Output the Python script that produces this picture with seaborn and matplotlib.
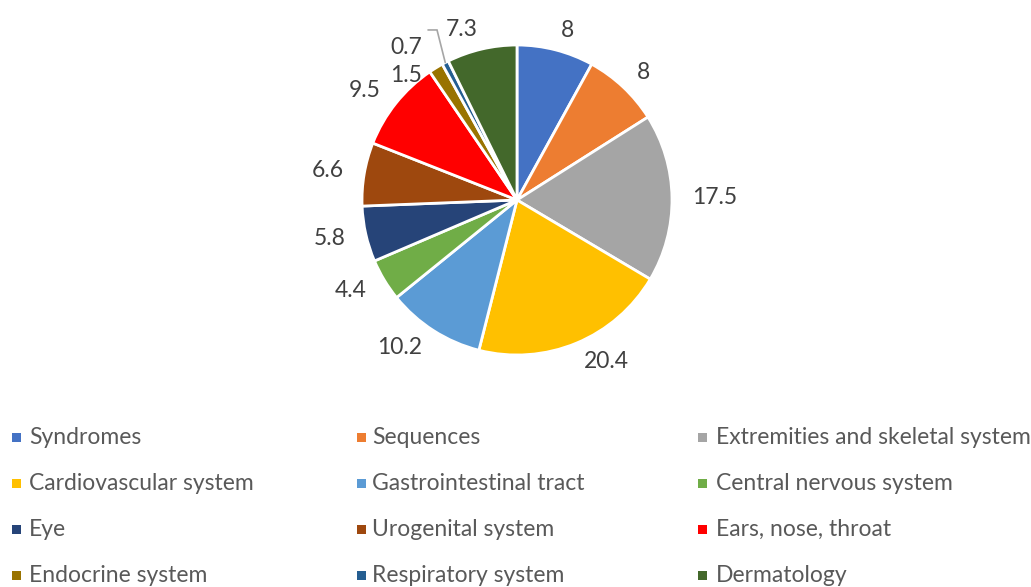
import matplotlib
matplotlib.use("Agg")
import matplotlib.pyplot as plt
import seaborn as sns
import numpy as np

categories = ["Syndromes", "Sequences", "Extremities and skeletal system",
              "Cardiovascular system", "Gastrointestinal tract", "Central nervous system",
              "Eye", "Urogenital system", "Ears, nose, throat",
              "Endocrine system", "Respiratory system", "Dermatology"]
values = [8, 8, 17.5, 20.4, 10.2, 4.4, 5.8, 6.6, 9.5, 1.5, 0.7, 7.3]
value_labels = ["8", "8", "17.5", "20.4", "10.2", "4.4", "5.8", "6.6", "9.5", "1.5", "0.7", "7.3"]
colors = ["#4472C4", "#ED7D31", "#A5A5A5", "#FFC000", "#5B9BD5", "#70AD47",
          "#264478", "#9E480E", "#FF0000", "#997300", "#255E91", "#43682B"]

sns.set_theme(style="white")
plt.rcParams['font.family'] = ['Lato', 'DejaVu Sans']

W, H = 1031, 587
fig = plt.figure(figsize=(W / 100, H / 100), dpi=100)
cx, cy, r = 517, 200, 155
ax = fig.add_axes([(cx - r) / W, (H - cy - r) / H, 2 * r / W, 2 * r / H])

wedges, texts = ax.pie(values, labels=value_labels, colors=colors, startangle=90,
                       counterclock=False, labeldistance=1.13,
                       wedgeprops=dict(edgecolor="white", linewidth=2.0),
                       textprops=dict(fontsize=16.5, color="#404040"))
ax.set_xlim(-1, 1)
ax.set_ylim(-1, 1)
ax.set_aspect("equal")
ax.axis("off")

# best-fit placement for the two thin slices
texts[9].set_position((-0.716, 0.806))
texts[9].set_ha("center")
texts[10].set_position((-0.716, 0.987))
texts[10].set_ha("center")
w = wedges[10]
mid = np.deg2rad((w.theta1 + w.theta2) / 2)
ex, ey = np.cos(mid), np.sin(mid)
ax.plot([-0.574, -0.516, ex], [1.097, 1.097, ey], color="#A6A6A6", lw=1.2,
        clip_on=False, solid_joinstyle="miter")

# legend
col_sq = [12, 357, 698]
col_tx = [29, 372, 716]
row_y = [437, 483, 529, 575]
sq = 9
for i, (cat, col) in enumerate(zip(categories, colors)):
    rr, cc = divmod(i, 3)
    y = row_y[rr]
    fig.patches.append(plt.Rectangle((col_sq[cc] / W, (H - y - sq / 2) / H), sq / W, sq / H,
                                     transform=fig.transFigure, facecolor=col, edgecolor="none"))
    fig.text(col_tx[cc] / W, (H - y) / H, cat, fontsize=16.5, color="#595959",
             ha="left", va="center")

fig.savefig("out.png", dpi=100)
